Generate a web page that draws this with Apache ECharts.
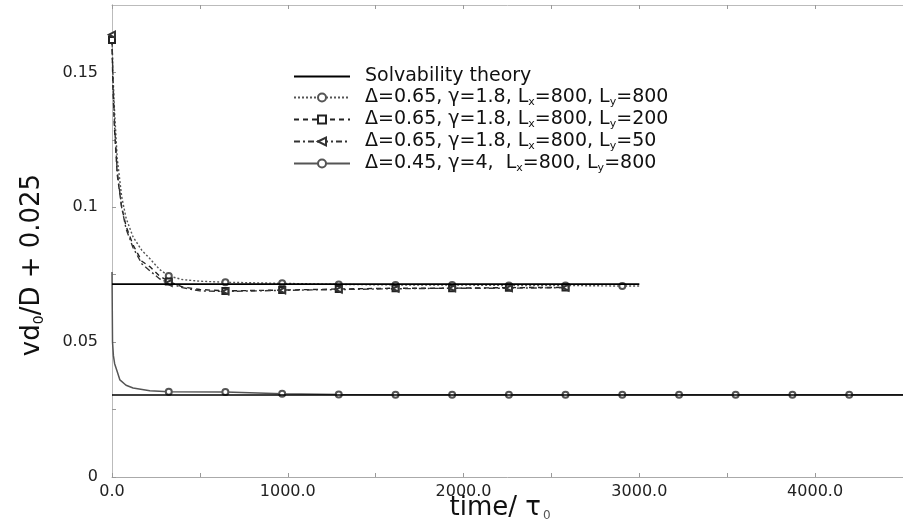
<!DOCTYPE html>
<html>
<head>
<meta charset="utf-8">
<script src="https://cdn.jsdelivr.net/npm/echarts@6/dist/echarts.min.js"></script>
<style>html,body{margin:0;padding:0;background:#fff}#c{width:903px;height:532px}</style>
</head>
<body>
<div id="c"></div>
<script>
// ---- data ----
const seriesNames = [
  'Solvability theory',
  'D065_800_800',
  'D065_800_200',
  'D065_800_50',
  'D045_800_800'
];
const legendLabels = [
  '{n|Solvability theory}',
  '{n|\u0394=0.65, \u03b3=1.8, L}{s|x}{n|=800, L}{s|y}{n|=800}',
  '{n|\u0394=0.65, \u03b3=1.8, L}{s|x}{n|=800, L}{s|y}{n|=200}',
  '{n|\u0394=0.65, \u03b3=1.8, L}{s|x}{n|=800, L}{s|y}{n|=50}',
  '{n|\u0394=0.45, \u03b3=4,  L}{s|x}{n|=800, L}{s|y}{n|=800}'
];
// solvability theory levels
const solvUpperT = [0, 3000];
const solvUpperV = [0.0715, 0.0715];
const solvLowerT = [0, 4500];
const solvLowerV = [0.0304, 0.0304];

// Δ=0.65, γ=1.8, Lx=800, Ly=800
const a_t = [0, 5, 15, 30, 55, 80, 120, 170, 215, 270, 323, 400, 500, 645, 968, 1290, 1613, 1935, 2258, 2580, 2903, 3000];
const a_v = [0.163, 0.150, 0.135, 0.118, 0.104, 0.096, 0.089, 0.084, 0.081, 0.077, 0.0745, 0.0732, 0.0726, 0.0722, 0.0718, 0.0714, 0.0712, 0.0712, 0.0710, 0.0710, 0.0708, 0.0708];
const a_m = [1, 0, 0, 0, 0, 0, 0, 0, 0, 0, 1, 0, 0, 1, 1, 1, 1, 1, 1, 1, 1, 0];
// Δ=0.65, γ=1.8, Lx=800, Ly=200
const b_t = [0, 5, 15, 30, 55, 80, 120, 170, 215, 270, 323, 400, 500, 645, 968, 1290, 1613, 1935, 2258, 2580];
const b_v = [0.162, 0.145, 0.128, 0.112, 0.100, 0.093, 0.086, 0.080, 0.078, 0.0745, 0.0725, 0.0705, 0.0695, 0.0690, 0.0693, 0.0697, 0.0700, 0.0700, 0.0702, 0.0703];
const b_m = [1, 0, 0, 0, 0, 0, 0, 0, 0, 0, 1, 0, 0, 1, 1, 1, 1, 1, 1, 1];
// Δ=0.65, γ=1.8, Lx=800, Ly=50
const c_t = [0, 5, 15, 30, 55, 80, 120, 170, 215, 270, 323, 400, 500, 645, 968, 1290, 1613, 1935, 2258, 2580];
const c_v = [0.164, 0.148, 0.130, 0.113, 0.100, 0.092, 0.085, 0.079, 0.0765, 0.0735, 0.0720, 0.0702, 0.0690, 0.0688, 0.0692, 0.0695, 0.0698, 0.0700, 0.0700, 0.0702];
const c_m = [1, 0, 0, 0, 0, 0, 0, 0, 0, 0, 1, 0, 0, 1, 1, 1, 1, 1, 1, 1];
// Δ=0.45, γ=4, Lx=800, Ly=800
const d_t = [0, 3, 8, 15, 30, 45, 80, 120, 215, 323, 645, 968, 1290, 1613, 1935, 2258, 2580, 2903, 3226, 3548, 3871, 4194, 4500];
const d_v = [0.076, 0.050, 0.045, 0.042, 0.039, 0.036, 0.034, 0.033, 0.032, 0.0316, 0.0315, 0.0309, 0.0306, 0.0305, 0.0305, 0.0305, 0.0305, 0.0305, 0.0305, 0.0305, 0.0305, 0.0305, 0.0305];
const d_m = [0, 0, 0, 0, 0, 0, 0, 0, 0, 1, 1, 1, 1, 1, 1, 1, 1, 1, 1, 1, 1, 1, 0];

// axis ticks
const xMin = 0, xMax = 4500, xStep = 500, xLabelStep = 1000;
const yMin = 0, yMax = 0.175, yStep = 0.025, yLabels = { '0': '0', '0.05': '0.05', '0.1': '0.1', '0.15': '0.15' };

// ---- build ----
function pts(t, v, m) {
  return t.map((x, i) => {
    const o = { value: [x, v[i]] };
    if (m && !m[i]) o.symbol = 'none';
    return o;
  });
}
const FONT = 'DejaVu Sans';
const chart = echarts.init(document.getElementById('c'), null, { renderer: 'canvas' });
const gridBox = { left: 112, top: 5, width: 795, height: 472 };
const legendData = seriesNames.map((n, i) => i === 0
  ? { name: n, icon: 'path://M0,0H56V2H0Z', itemStyle: { color: '#000' } }
  : { name: n });
chart.setOption({
  animation: false,
  backgroundColor: '#fff',
  grid: Object.assign({ containLabel: false, show: false }, gridBox),
  legend: {
    orient: 'vertical',
    left: 288,
    top: 62,
    itemWidth: 56,
    itemHeight: 10,
    itemGap: 1,
    data: legendData,
    formatter: function (name) { return legendLabels[seriesNames.indexOf(name)]; },
    textStyle: {
      color: '#111',
      padding: [0, 0, 0, 10],
      rich: {
        n: { fontFamily: FONT, fontSize: 19, color: '#111', lineHeight: 22 },
        s: { fontFamily: FONT, fontSize: 11, color: '#111', padding: [10, 0, 0, 0], lineHeight: 22 }
      }
    }
  },
  xAxis: [{
    type: 'value', min: xMin, max: xMax, interval: xStep, position: 'bottom',
    axisLine: { show: true, lineStyle: { color: '#aaa', width: 1 } },
    axisTick: { show: true, inside: true, length: 4, lineStyle: { color: '#999' } },
    splitLine: { show: false },
    axisLabel: {
      show: true, margin: 7, fontFamily: FONT, fontSize: 16, color: '#222',
      showMinLabel: true, showMaxLabel: false,
      formatter: function (v) { return (Math.abs(v % xLabelStep) < 1e-6) ? v.toFixed(1) : ''; }
    }
  }, {
    type: 'value', min: xMin, max: xMax, interval: xStep, position: 'top',
    axisLine: { show: true, onZero: false, lineStyle: { color: '#bbb', width: 1 } },
    axisTick: { show: true, inside: true, length: 4, lineStyle: { color: '#999' } },
    axisLabel: { show: false }, splitLine: { show: false }
  }],
  yAxis: [{
    type: 'value', min: yMin, max: yMax, interval: yStep,
    axisLine: { show: true, lineStyle: { color: '#aaa', width: 1 } },
    axisTick: { show: true, inside: true, length: 4, lineStyle: { color: '#999' } },
    splitLine: { show: false },
    axisLabel: {
      show: true, margin: 14, fontFamily: FONT, fontSize: 16, color: '#222',
      showMaxLabel: false,
      formatter: function (v) { const k = String(+v.toFixed(3)); return yLabels[k] || ''; }
    }
  }, {
    type: 'value', min: yMin, max: yMax, interval: yStep, position: 'right',
    axisLine: { show: true, lineStyle: { color: '#bbb' } },
    axisTick: { show: false }, axisLabel: { show: false }, splitLine: { show: false }
  }],
  series: [
    {
      name: seriesNames[0], type: 'line', symbol: 'none', z: 5,
      lineStyle: { color: '#000', width: 1.6 }, itemStyle: { color: '#000' },
      data: pts(solvUpperT, solvUpperV)
    },
    {
      name: seriesNames[0], type: 'line', symbol: 'none', z: 5,
      lineStyle: { color: '#000', width: 1.6 }, itemStyle: { color: '#000' },
      data: pts(solvLowerT, solvLowerV)
    },
    {
      name: seriesNames[1], type: 'line', symbol: 'emptyCircle', symbolSize: 6, showAllSymbol: true,
      lineStyle: { color: '#555', width: 1.4, type: [2, 2] },
      itemStyle: { color: '#555', borderWidth: 1.2 },
      data: pts(a_t, a_v, a_m)
    },
    {
      name: seriesNames[2], type: 'line', symbol: 'emptyRect', symbolSize: 6, showAllSymbol: true,
      lineStyle: { color: '#222', width: 1.4, type: [5, 4] },
      itemStyle: { color: '#222', borderWidth: 1.2 },
      data: pts(b_t, b_v, b_m)
    },
    {
      name: seriesNames[3], type: 'line', symbol: 'emptyTriangle', symbolRotate: 90, symbolSize: 6, showAllSymbol: true,
      lineStyle: { color: '#333', width: 1.4, type: [6, 3, 2, 3] },
      itemStyle: { color: '#333', borderWidth: 1.2 },
      data: pts(c_t, c_v, c_m)
    },
    {
      name: seriesNames[4], type: 'line', symbol: 'emptyCircle', symbolSize: 6, showAllSymbol: true,
      lineStyle: { color: '#555', width: 1.5 },
      itemStyle: { color: '#555', borderWidth: 1.2 },
      data: pts(d_t, d_v, d_m)
    }
  ],
  graphic: [
    {
      type: 'text', x: 500, y: 508,
      style: {
        text: '{a|time/ \u03c4}{s|0}', align: 'center', verticalAlign: 'middle',
        rich: {
          a: { fontFamily: FONT, fontSize: 26, fill: '#111' },
          s: { fontFamily: FONT, fontSize: 12, fill: '#555', padding: [16, 0, 0, 2] }
        }
      }
    },
    {
      type: 'text', x: 32, y: 265, rotation: Math.PI / 2,
      style: {
        text: '{a|vd}{s|0}{a|/D + 0.025}', align: 'center', verticalAlign: 'middle',
        rich: {
          a: { fontFamily: FONT, fontSize: 26, fill: '#111' },
          s: { fontFamily: FONT, fontSize: 14, fill: '#111', padding: [14, 0, 0, 0] }
        }
      }
    }
  ]
});
</script>
</body>
</html>
